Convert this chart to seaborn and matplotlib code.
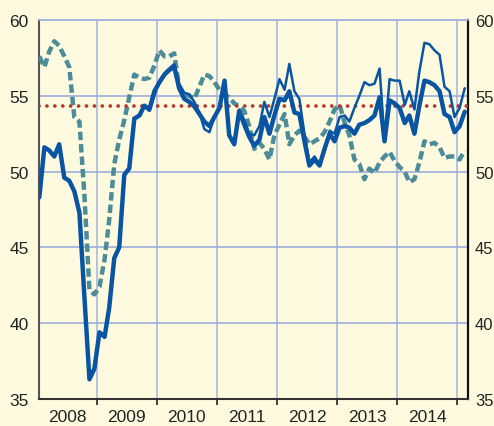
import numpy as np
import pandas as pd
import seaborn as sns
import matplotlib.pyplot as plt
import matplotlib.dates as mdates

# monthly readings, Jan 2008 - Feb 2015
thick_vals = [48.3, 51.6, 51.4, 51.0, 51.8, 49.6, 49.4, 48.7, 47.3, 41.8,
              36.3, 37.0, 39.4, 39.1, 41.0, 44.3, 45.0, 49.8, 50.2, 53.5,
              53.7, 54.35, 54.1, 55.3, 55.9, 56.4, 56.7, 56.9, 55.5, 54.8,
              54.6, 54.3, 53.8, 53.3, 53.0, 53.6, 54.2, 56.0, 52.4, 51.8,
              54.0, 53.1, 52.3, 51.7, 52.1, 53.6, 52.5, 53.7, 54.8, 54.7,
              55.3, 53.9, 53.8, 52.0, 50.4, 50.8, 50.4, 51.5, 52.5, 52.0,
              52.9, 53.0, 52.9, 52.5, 53.1, 53.2, 53.4, 53.7, 54.9, 52.0,
              54.7, 54.5, 54.2, 53.2, 53.7, 52.5, 54.35, 56.0, 55.9, 55.7,
              55.3, 53.8, 53.6, 52.6, 53.0, 53.95]

# thin series starts Oct 2009
thin_vals = [np.nan] * 21 + [
    54.3, 54.0, 55.0, 56.0, 56.5, 56.8, 57.1, 55.8, 55.2,
    55.1, 54.6, 53.9, 52.8, 52.6, 53.6, 54.2, 56.0, 52.4, 51.8,
    54.1, 53.4, 52.5, 52.4, 53.0, 54.6, 53.6, 54.8, 56.1, 55.4,
    57.1, 55.3, 54.8, 52.5, 50.6, 51.0, 50.5, 51.3, 52.7, 52.5,
    53.6, 53.7, 53.3, 54.2, 55.0, 55.9, 55.7, 55.8, 56.8, 52.1,
    56.1, 56.0, 56.0, 54.4, 55.3, 54.1, 56.6, 58.5, 58.4, 58.0,
    57.7, 55.6, 55.3, 53.6, 54.2, 55.5]

dashed_vals = [57.6, 56.9, 57.9, 58.6, 58.3, 57.6, 56.9, 53.6, 53.3, 48.5,
               42.2, 41.9, 42.4, 44.2, 46.8, 50.5, 52.1, 53.4, 54.9, 56.4,
               56.2, 56.1, 56.2, 57.0, 58.0, 57.6, 57.6, 57.8, 55.5, 55.1,
               55.0, 54.8, 55.6, 56.4, 56.3, 55.9, 55.4, 55.1, 54.9, 54.5,
               54.3, 54.0, 53.0, 51.5, 51.9, 51.5, 50.8, 52.4, 53.1, 53.8,
               51.8, 52.4, 52.7, 52.3, 51.8, 52.0, 52.2, 52.6, 53.3, 54.1,
               54.4, 53.2, 52.4, 50.8, 50.5, 49.5, 50.2, 49.9, 50.6, 51.0,
               51.3, 50.7, 50.3, 50.0, 49.3, 49.5, 50.6, 52.0, 51.8, 51.9,
               51.6, 50.9, 51.0, 51.0, 50.8, 51.4]

ref_level = 54.3
year_labels = ["2008", "2009", "2010", "2011", "2012", "2013", "2014"]
y_ticks = [35, 40, 45, 50, 55, 60]

months = pd.date_range("2008-01-01", periods=len(thick_vals), freq="MS") + pd.Timedelta(days=14)
df = pd.DataFrame({"month": months, "thick": thick_vals,
                   "thin": thin_vals, "dashed": dashed_vals})

bg = "#fefadf"
blue = "#0a55a3"
teal = "#4b8c98"

sns.set_style("white")
plt.rcParams["font.family"] = ["Liberation Sans", "DejaVu Sans"]

fig = plt.figure(figsize=(4.94, 4.27), dpi=100, facecolor=bg)
ax = fig.add_axes([0.0789, 0.0632, 0.8685, 0.8876])
ax.set_facecolor(bg)

sns.lineplot(data=df, x="month", y="dashed", ax=ax, color=teal, lw=3.2,
             zorder=3).lines[-1].set_dashes([1.9, 0.9])
ax.axhline(ref_level, color="#b23a32", lw=2.7, ls=(0, (0.01, 2.1)),
           dash_capstyle="round", zorder=4)
sns.lineplot(data=df.dropna(subset=["thin"]), x="month", y="thin", ax=ax,
             color=blue, lw=1.8, zorder=5)
sns.lineplot(data=df, x="month", y="thick", ax=ax, color=blue, lw=3.2, zorder=6)

ax.set_ylim(35, 60)
ax.set_xlim(pd.Timestamp("2008-01-13"), pd.Timestamp("2015-03-07"))
ax.set_yticks(y_ticks)
ax.set_xlabel("")
ax.set_ylabel("")

ax.xaxis.set_major_locator(mdates.YearLocator())
ax.xaxis.set_major_formatter(plt.NullFormatter())
mids = [pd.Timestamp(f"{y}-07-01") for y in year_labels]
ax.set_xticks(mids, minor=True)
ax.set_xticklabels(year_labels, minor=True)

ax.tick_params(axis="x", which="major", direction="out", length=4, width=1.3,
               color="#333333", bottom=True)
ax.tick_params(axis="x", which="minor", length=0, pad=7, labelsize=12.5,
               colors="#222222")
ax.tick_params(axis="y", length=0, pad=7.5, labelsize=12.5, colors="#222222")

# right-hand copy of the value axis
ax2 = ax.twinx()
ax2.set_ylim(ax.get_ylim())
ax2.set_yticks(y_ticks)
ax2.tick_params(axis="y", length=0, pad=5, labelsize=12, colors="#222222")
ax2.grid(False)
for s in ax2.spines.values():
    s.set_visible(False)

ax.grid(True, which="major", axis="y", color="#9eaedb", lw=1.2)
ax.grid(True, which="major", axis="x", color="#b7c2dc", lw=1.4)
ax.set_axisbelow(True)

for side, col, w in [("left", "#555555", 1.5), ("right", "#111111", 1.6),
                     ("bottom", "#333333", 1.5), ("top", "#9eaedb", 1.2)]:
    ax.spines[side].set_visible(True)
    ax.spines[side].set_color(col)
    ax.spines[side].set_linewidth(w)

fig.savefig("out.png", dpi=100, facecolor=bg)
